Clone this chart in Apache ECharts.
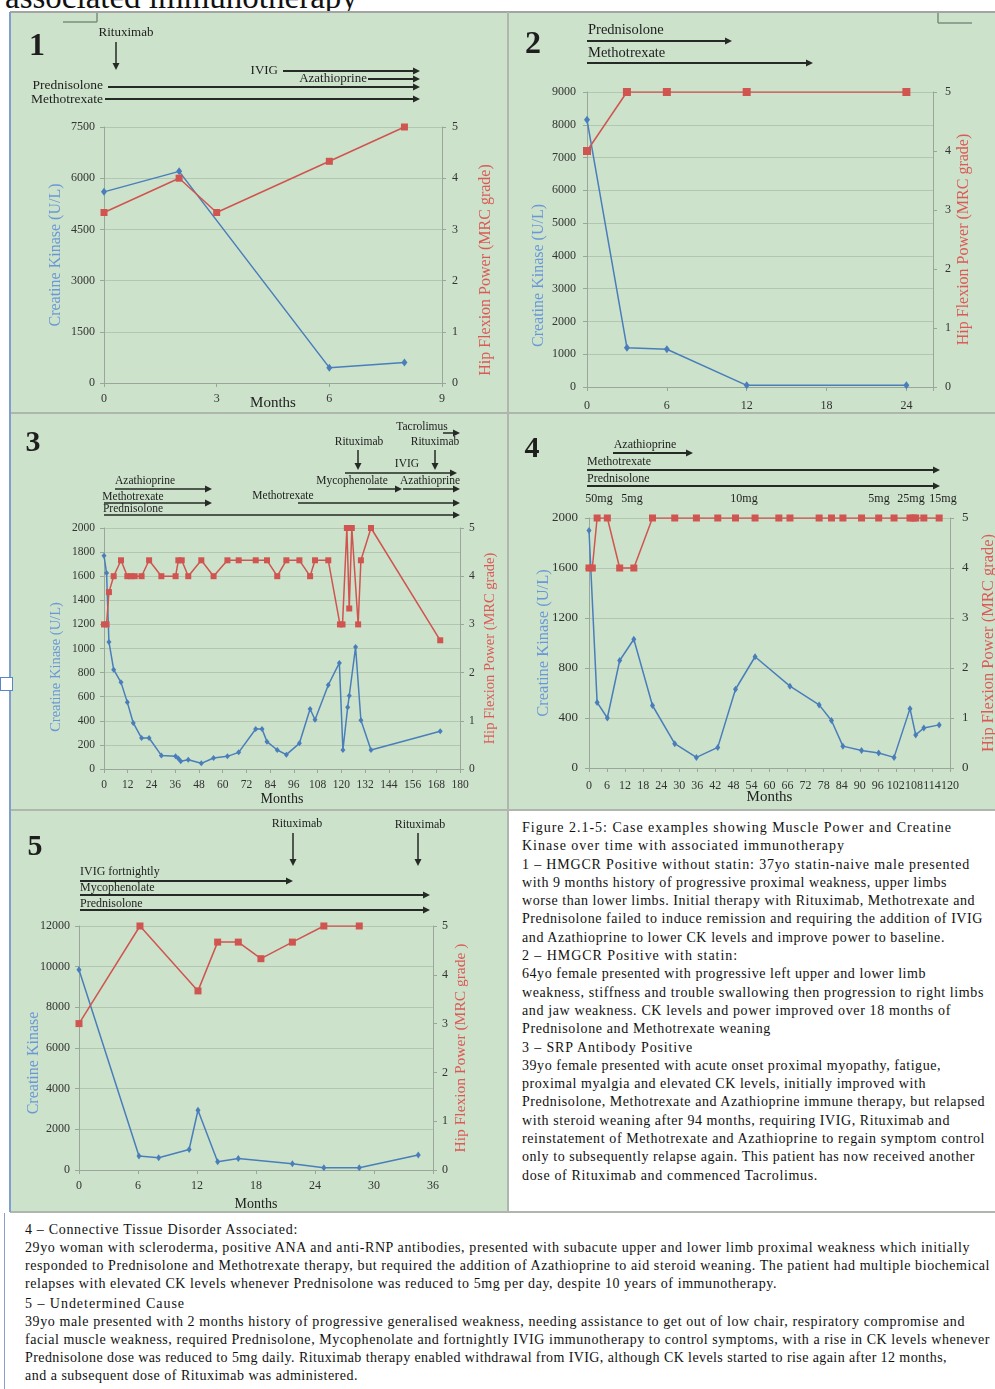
<!DOCTYPE html>
<html>
<head>
<meta charset="utf-8">
<script src="https://cdn.jsdelivr.net/npm/echarts@6/dist/echarts.min.js"></script>
<style>
  body { margin: 0; width: 995px; height: 1389px; position: relative; background: #fff; overflow: hidden;
         font-family: "Liberation Serif", "Times New Roman", serif; color: #111; }
  .head { position: absolute; left: 5px; top: -19px; font-size: 33px; line-height: 33px; white-space: nowrap; }
  .panel { position: absolute; background: #cce2cb; }
  .rule { position: absolute; background: #aeb6ae; }
  .tb { position: absolute; font-size: 14px; white-space: nowrap; }
  .tb div { width: max-content; }
</style>
</head>
<body>
<div class="head">associated immunotherapy</div>

<div id="p1" class="panel" style="left:10px;top:12px;width:498px;height:401px"></div>
<div id="p2" class="panel" style="left:508px;top:12px;width:487px;height:401px"></div>
<div id="p3" class="panel" style="left:10px;top:413px;width:498px;height:397px"></div>
<div id="p4" class="panel" style="left:508px;top:413px;width:487px;height:397px"></div>
<div id="p5" class="panel" style="left:10px;top:810px;width:498px;height:402px"></div>

<div class="rule" style="left:10px;top:11px;width:985px;height:2px;background:#a4a4a4"></div>
<div class="rule" style="left:507px;top:12px;width:2px;height:1200px"></div>
<div class="rule" style="left:10px;top:412px;width:985px;height:2px"></div>
<div class="rule" style="left:10px;top:809px;width:985px;height:2px"></div>
<div class="rule" style="left:10px;top:1211px;width:985px;height:2px"></div>
<div class="rule" style="left:9px;top:12px;width:2px;height:1200px;background:#7f9fcf"></div>
<div class="rule" style="left:4px;top:1213px;width:1px;height:176px;background:#8aa0c0"></div>
<div style="position:absolute;left:0;top:677px;width:11px;height:12px;border:1px solid #5b86c5;background:#fff"></div>

<div class="tb" id="caption" style="left:522px;top:819px;line-height:18.3px"></div>
<div class="tb" id="notes" style="left:25px;top:1221px;line-height:18px"></div>

<script>
// ---- chart values ----
// case 1
var p1CkMonths = [0, 2, 6, 8];
var p1Ck = [5600, 6200, 450, 600];
var p1MrcMonths = [0, 2, 3, 6, 8];
var p1Mrc = [3.33, 4, 3.33, 4.33, 5];

// case 2
var p2Months = [0, 3, 6, 12, 24];
var p2Ck = [8150, 1200, 1150, 50, 50];
var p2Mrc = [4, 5, 5, 5, 5];

// case 3
var p3CkMonths = [0, 1.3, 2.5, 4.9, 8.6, 11.8, 14.8, 19, 22.8, 29, 36.2, 37.6, 38.8, 42.6, 49.2, 55.4, 62.4, 68.1,
  76.7, 79.9, 82.4, 87.6, 92.2, 98.8, 104.2, 106.7, 113.4, 119, 120.8, 123.2, 124, 127.2, 129.9, 135, 170];
var p3Ck = [1770, 1626, 1054, 824, 719, 553, 382, 257, 257, 113, 105, 88, 64, 77, 47, 91, 105, 138,
  332, 332, 227, 158, 119, 213, 498, 409, 697, 880, 158, 512, 608, 1012, 404, 158, 313];
var p3MrcMonths = [0, 1.3, 2.5, 4.9, 8.6, 11.8, 13.7, 15.5, 19, 22.8, 29, 36.2, 37.6, 39.3, 42.6, 49.2, 55.4, 62.4,
  68.1, 76.7, 82.4, 87.6, 92.2, 98.8, 104.2, 106.7, 113.4, 119.3, 120.6, 122.8, 124, 125.3, 128.5, 129.9, 135, 170];
var p3Mrc = [3, 3, 3.67, 4, 4.33, 4, 4, 4, 4, 4.33, 4, 4, 4.33, 4.33, 4, 4.33, 4, 4.33,
  4.33, 4.33, 4.33, 4, 4.33, 4.33, 4, 4.33, 4.33, 3, 3, 5, 3.33, 5, 3, 4.33, 5, 2.67];

// case 4
var p4CkMonths = [0, 2.7, 6.1, 10.2, 14.9, 21.1, 28.5, 35.7, 42.8, 48.7, 55.2, 66.8, 76.5, 80.6, 84.4, 90.6,
  96.3, 101.4, 106.7, 108.6, 111.3, 116.4];
var p4Ck = [1900, 525, 400, 860, 1030, 500, 195, 85, 165, 630, 890, 655, 505, 380, 175, 140,
  120, 85, 475, 265, 320, 345];
var p4MrcMonths = [0, 1.1, 2.7, 6.1, 10.2, 14.9, 21.1, 28.5, 35.7, 42.8, 48.7, 55.2, 63.1, 66.8, 76.5, 80.6,
  84.4, 90.6, 96.3, 101.4, 106.7, 107.8, 108.6, 111.3, 116.4];
var p4Mrc = [4, 4, 5, 5, 4, 4, 5, 5, 5, 5, 5, 5, 5, 5, 5, 5, 5, 5, 5, 5, 5, 5, 5, 5, 5];
var p4Doses = ['50mg', '5mg', '10mg', '5mg', '25mg', '15mg'];

// case 5
var p5CkMonths = [0, 6.1, 8.1, 11.2, 12.1, 14.1, 16.2, 21.7, 24.9, 28.5, 34.5];
var p5Ck = [9850, 690, 600, 1010, 2940, 410, 560, 310, 115, 115, 740];
var p5MrcMonths = [0, 6.2, 12.1, 14.1, 16.2, 18.5, 21.7, 24.9, 28.5];
var p5Mrc = [3, 5, 3.67, 4.67, 4.67, 4.33, 4.67, 5, 5];

var FONT = '"Liberation Serif", "Times New Roman", serif';
var GRID_C = '#b3c6b1', AXIS_C = '#9aa69a', ARROW_C = '#262a26';
var BLUE = '#4a7ebb', RED = '#d05450', BLUE_NAME = '#6a98d6', RED_NAME = '#dc5a56';

function pairs(xs, ys) {
  return xs.map(function (x, i) { return [x, ys[i]]; });
}

function txt(s, x, y, size, align, bold) {
  return { type: 'text', x: x, y: y, silent: true,
    style: { text: s, fontFamily: FONT, fontSize: size, fontWeight: bold ? 'bold' : 'normal', fill: '#1e1e1e',
      align: align || 'center', textAlign: align || 'center', verticalAlign: 'middle', textVerticalAlign: 'middle' } };
}
function hArrow(x1, x2, y, w) {
  return [
    { type: 'line', silent: true, shape: { x1: x1, y1: y, x2: x2 - 5, y2: y }, style: { stroke: ARROW_C, lineWidth: w || 1.8 } },
    { type: 'polygon', silent: true, shape: { points: [[x2 - 7, y - 3.5], [x2, y], [x2 - 7, y + 3.5]] }, style: { fill: ARROW_C } }
  ];
}
function vArrow(x, y1, y2) {
  return [
    { type: 'line', silent: true, shape: { x1: x, y1: y1, x2: x, y2: y2 - 5 }, style: { stroke: ARROW_C, lineWidth: 1.5 } },
    { type: 'polygon', silent: true, shape: { points: [[x - 3.5, y2 - 7], [x, y2], [x + 3.5, y2 - 7]] }, style: { fill: ARROW_C } }
  ];
}
function seg(x1, y1, x2, y2) {
  return { type: 'line', silent: true, shape: { x1: x1, y1: y1, x2: x2, y2: y2 }, style: { stroke: '#7d8c7d', lineWidth: 1.5 } };
}

function makeOption(c) {
  var lab = { fontFamily: FONT, color: '#333' };
  var plain = function (v) { return String(v); };
  return {
    animation: false,
    grid: Object.assign({ outerBoundsMode: 'none', containLabel: false }, c.grid),
    xAxis: {
      type: 'value', min: 0, max: c.xMax, interval: c.xInterval,
      name: c.xName || '', nameLocation: 'middle', nameGap: c.xNameGap || 20, nameMoveOverlap: false,
      nameTextStyle: { fontFamily: FONT, fontSize: c.xNameSize || 14, color: '#222' },
      axisLine: { show: true, onZero: false, lineStyle: { color: AXIS_C } },
      axisTick: { show: true, length: 4, lineStyle: { color: AXIS_C } },
      splitLine: { show: false },
      axisLabel: Object.assign({ fontSize: c.xLabelSize || 12, margin: c.xLabelMargin || 10,
        formatter: function (v) { return v % c.xInterval === 0 ? String(v) : ''; } }, lab)
    },
    yAxis: [{
      type: 'value', position: 'left', min: 0, max: c.ckMax, interval: c.ckInterval,
      name: c.ckName, nameLocation: 'middle', nameGap: c.ckGap, nameRotate: 90, nameMoveOverlap: false,
      nameTextStyle: { fontFamily: FONT, fontSize: c.ckNameSize, color: BLUE_NAME, padding: c.ckPad || 0 },
      axisLine: { show: true, lineStyle: { color: AXIS_C } },
      axisTick: { show: true, length: 4, lineStyle: { color: AXIS_C } },
      splitLine: { show: true, lineStyle: { color: GRID_C, width: 1.2 } },
      axisLabel: Object.assign({ fontSize: c.yLabelSize || 12, margin: c.ckMargin || 9, formatter: plain }, lab)
    }, {
      type: 'value', position: 'right', min: 0, max: 5, interval: 1,
      name: c.mrcName, nameLocation: 'middle', nameGap: c.mrcGap, nameRotate: 90, nameMoveOverlap: false,
      nameTextStyle: { fontFamily: FONT, fontSize: c.mrcNameSize, color: RED_NAME, padding: c.mrcPad || 0 },
      axisLine: { show: true, lineStyle: { color: AXIS_C } },
      axisTick: { show: true, length: 4, lineStyle: { color: AXIS_C } },
      splitLine: { show: false },
      axisLabel: Object.assign({ fontSize: c.yLabelSize || 12, margin: c.mrcMargin || 10, formatter: plain }, lab)
    }],
    series: [{
      type: 'line', yAxisIndex: 0, data: c.ck, symbol: 'diamond', symbolSize: c.ckSym || [6, 8],
      lineStyle: { color: BLUE, width: 1.5 }, itemStyle: { color: BLUE }
    }, {
      type: 'line', yAxisIndex: 1, data: c.mrc, symbol: 'rect', symbolSize: c.mrcSym || 7,
      lineStyle: { color: RED, width: 1.5 }, itemStyle: { color: RED }
    }],
    graphic: [].concat.apply([], c.graphic.map(function (g) { return Array.isArray(g) ? g : [g]; }))
  };
}

var CK_UL = 'Creatine Kinase (U/L)', MRC = 'Hip Flexion Power (MRC grade)';

var opts = {
  p1: makeOption({
    grid: { left: 94, right: 66, top: 115, bottom: 30 },
    xMax: 9, xInterval: 3, xName: 'Months', xNameGap: 13, xNameSize: 15,
    ckMax: 7500, ckInterval: 1500, ckName: CK_UL, ckGap: 40, mrcName: MRC, mrcGap: 36, mrcPad: [0, 30, 0, 0],
    ckNameSize: 16, mrcNameSize: 16, ck: pairs(p1CkMonths, p1Ck), mrc: pairs(p1MrcMonths, p1Mrc),
    graphic: [
      txt('1', 27, 35, 32, 'center', true),
      txt('Rituximab', 116, 21, 13),
      vArrow(106, 30, 58),
      txt('IVIG', 268, 59, 13, 'right'), hArrow(273, 410, 59),
      txt('Azathioprine', 357, 67, 13, 'right'), hArrow(358, 410, 67),
      txt('Prednisolone', 93, 73, 13.5, 'right'), hArrow(98, 410, 75),
      txt('Methotrexate', 93, 87, 13.5, 'right'), hArrow(95, 410, 87),
      seg(87, 0, 87, 10), seg(53, 10, 87, 10)
    ]
  }),
  p2: makeOption({
    grid: { left: 79, right: 62, top: 80, bottom: 26 },
    xMax: 26, xInterval: 6, xLabelMargin: 13,
    ckMax: 9000, ckInterval: 1000, ckName: CK_UL, ckGap: 40, ckPad: [0, 72, 0, 0], ckMargin: 11,
    mrcName: MRC, mrcGap: 23, mrcMargin: 12,
    ckNameSize: 16, mrcNameSize: 16, mrcSym: 8, ck: pairs(p2Months, p2Ck), mrc: pairs(p2Months, p2Mrc),
    graphic: [
      txt('2', 25, 33, 32, 'center', true),
      txt('Prednisolone', 80, 18, 14.5, 'left'), hArrow(79, 224, 29),
      txt('Methotrexate', 80, 41, 14.5, 'left'), hArrow(79, 305, 51),
      seg(430, 0, 430, 11), seg(430, 11, 464, 11)
    ]
  }),
  p3: makeOption({
    grid: { left: 94, right: 48, top: 115, bottom: 41 },
    xMax: 180, xInterval: 12, xName: 'Months', xNameGap: 23, xNameSize: 14, xLabelSize: 11.5,
    ckMax: 2000, ckInterval: 200, ckName: CK_UL, ckGap: 40, ckPad: [0, 37, 0, 0],
    mrcName: MRC, mrcGap: 23, mrcMargin: 9, yLabelSize: 11.5,
    ckNameSize: 14.5, mrcNameSize: 14.5, ckSym: [5, 6], mrcSym: 6, ck: pairs(p3CkMonths, p3Ck), mrc: pairs(p3MrcMonths, p3Mrc),
    graphic: [
      txt('3', 23, 30, 30, 'center', true),
      txt('Tacrolimus', 412, 14, 11.5), hArrow(433, 450, 20, 1.5),
      txt('Rituximab', 349, 29, 11.5), vArrow(348, 37, 57),
      txt('Rituximab', 425, 29, 11.5), vArrow(425, 37, 57),
      txt('IVIG', 397, 51, 11.5), hArrow(335, 447, 60, 1.5),
      txt('Mycophenolate', 342, 68, 11.5), hArrow(358, 392, 76, 1.5),
      txt('Azathioprine', 420, 68, 11.5), hArrow(393, 450, 76, 1.5),
      txt('Azathioprine', 135, 68, 11.5), hArrow(105, 202, 76, 1.5),
      txt('Methotrexate', 123, 84, 11.5), hArrow(94, 202, 90, 1.5),
      txt('Methotrexate', 273, 83, 11.5), hArrow(288, 450, 90, 1.5),
      txt('Prednisolone', 123, 96, 11.5), hArrow(94, 450, 102, 1.5)
    ]
  }),
  p4: makeOption({
    grid: { left: 81, right: 45, top: 105, bottom: 42 },
    xMax: 120, xInterval: 6, xName: 'Months', xNameGap: 22, xNameSize: 15, xLabelSize: 12, xLabelMargin: 12,
    ckMax: 2000, ckInterval: 400, ckName: CK_UL, ckGap: 37, ckMargin: 11,
    mrcName: MRC, mrcGap: 30, mrcMargin: 12, yLabelSize: 13,
    ckNameSize: 16.5, mrcNameSize: 16.5, ckSym: [5, 7], mrcSym: 7, ck: pairs(p4CkMonths, p4Ck), mrc: pairs(p4MrcMonths, p4Mrc),
    graphic: [
      txt('4', 24, 36, 30, 'center', true),
      txt('Azathioprine', 137, 32, 12), hArrow(105, 185, 40),
      txt('Methotrexate', 79, 49, 12, 'left'), hArrow(79, 432, 57),
      txt('Prednisolone', 79, 66, 12, 'left'), hArrow(79, 432, 73),
      txt(p4Doses[0], 91, 86, 12), txt(p4Doses[1], 124, 86, 12), txt(p4Doses[2], 236, 86, 12),
      txt(p4Doses[3], 371, 86, 12), txt(p4Doses[4], 403, 86, 12), txt(p4Doses[5], 435, 86, 12)
    ]
  }),
  p5: makeOption({
    grid: { left: 69, right: 75, top: 116, bottom: 42 },
    xMax: 36, xInterval: 6, xName: 'Months', xNameGap: 27, xNameSize: 14,
    ckMax: 12000, ckInterval: 2000, ckName: 'Creatine Kinase', ckGap: 37, ckPad: [0, 30, 0, 0],
    mrcName: 'Hip Flexion Power (MRC grade )', mrcGap: 20, mrcMargin: 9,
    ckNameSize: 16, mrcNameSize: 15.5, ckSym: [5, 7], mrcSym: 7, ck: pairs(p5CkMonths, p5Ck), mrc: pairs(p5MrcMonths, p5Mrc),
    graphic: [
      txt('5', 25, 37, 30, 'center', true),
      txt('Rituximab', 287, 14, 12), vArrow(283, 23, 56),
      txt('Rituximab', 410, 15, 12), vArrow(408, 23, 56),
      txt('IVIG fortnightly', 70, 62, 12, 'left'), hArrow(70, 283, 71),
      txt('Mycophenolate', 70, 78, 12, 'left'), hArrow(70, 420, 85),
      txt('Prednisolone', 70, 94, 12, 'left'), hArrow(70, 420, 100)
    ]
  })
};

Object.keys(opts).forEach(function (id) {
  var chart = echarts.init(document.getElementById(id), null, { renderer: 'canvas' });
  chart.setOption(opts[id]);
});

// ---- caption text, each line stretched to the width it has in the figure ----
var captionLines = [
  ['Figure 2.1-5: Case examples showing Muscle Power and Creatine', 430],
  ['Kinase over time with associated immunotherapy', 323],
  ['1 \u2013 HMGCR Positive without statin: 37yo statin-naive male presented', 448],
  ['with 9 months history of progressive proximal weakness, upper limbs', 425],
  ['worse than lower limbs. Initial therapy with Rituximab, Methotrexate and', 453],
  ['Prednisolone failed to induce remission and requiring the addition of IVIG', 461],
  ['and Azathioprine to lower CK levels and improve power to baseline.', 423],
  ['2 \u2013 HMGCR Positive with statin:', 216],
  ['64yo female presented with progressive left upper and lower limb', 404],
  ['weakness, stiffness and trouble swallowing then progression to right limbs', 462],
  ['and jaw weakness. CK levels and power improved over 18 months of', 429],
  ['Prednisolone and Methotrexate weaning', 249],
  ['3 \u2013 SRP Antibody Positive', 171],
  ['39yo female presented with acute onset proximal myopathy, fatigue,', 419],
  ['proximal myalgia and elevated CK levels, initially improved with', 404],
  ['Prednisolone, Methotrexate and Azathioprine immune therapy, but relapsed', 463],
  ['with steroid weaning after 94 months, requiring IVIG, Rituximab and', 428],
  ['reinstatement of Methotrexate and Azathioprine to regain symptom control', 463],
  ['only to subsequently relapse again. This patient has now received another', 453],
  ['dose of Rituximab and commenced Tacrolimus.', 296]
];
var noteLines = [
  ['4 \u2013 Connective Tissue Disorder Associated:', 273],
  ['29yo woman with scleroderma, positive ANA and anti-RNP antibodies, presented with subacute upper and lower limb proximal weakness which initially', 945],
  ['responded to Prednisolone and Methotrexate therapy, but required the addition of Azathioprine to aid steroid weaning. The patient had multiple biochemical', 965],
  ['relapses with elevated CK levels whenever Prednisolone was reduced to 5mg per day, despite 10 years of immunotherapy.', 752],
  ['5 \u2013 Undetermined Cause', 160],
  ['39yo male presented with 2 months history of progressive generalised weakness, needing assistance to get out of low chair, respiratory compromise and', 940],
  ['facial muscle weakness, required Prednisolone, Mycophenolate and fortnightly IVIG immunotherapy to control symptoms, with a rise in CK levels whenever', 965],
  ['Prednisolone dose was reduced to 5mg daily. Rituximab therapy enabled withdrawal from IVIG, although CK levels started to rise again after 12 months,', 922],
  ['and a subsequent dose of Rituximab was administered.', 333]
];

function fillLines(boxId, lines, gapBefore) {
  var box = document.getElementById(boxId);
  lines.forEach(function (l, i) {
    var d = document.createElement('div');
    d.textContent = l[0];
    if (gapBefore && gapBefore[i]) d.style.marginTop = gapBefore[i] + 'px';
    box.appendChild(d);
    var nat = d.getBoundingClientRect().width;
    d.style.letterSpacing = ((l[1] - nat) / l[0].length) + 'px';
  });
}
fillLines('caption', captionLines);
fillLines('notes', noteLines, { 4: 2 });
</script>
</body>
</html>
